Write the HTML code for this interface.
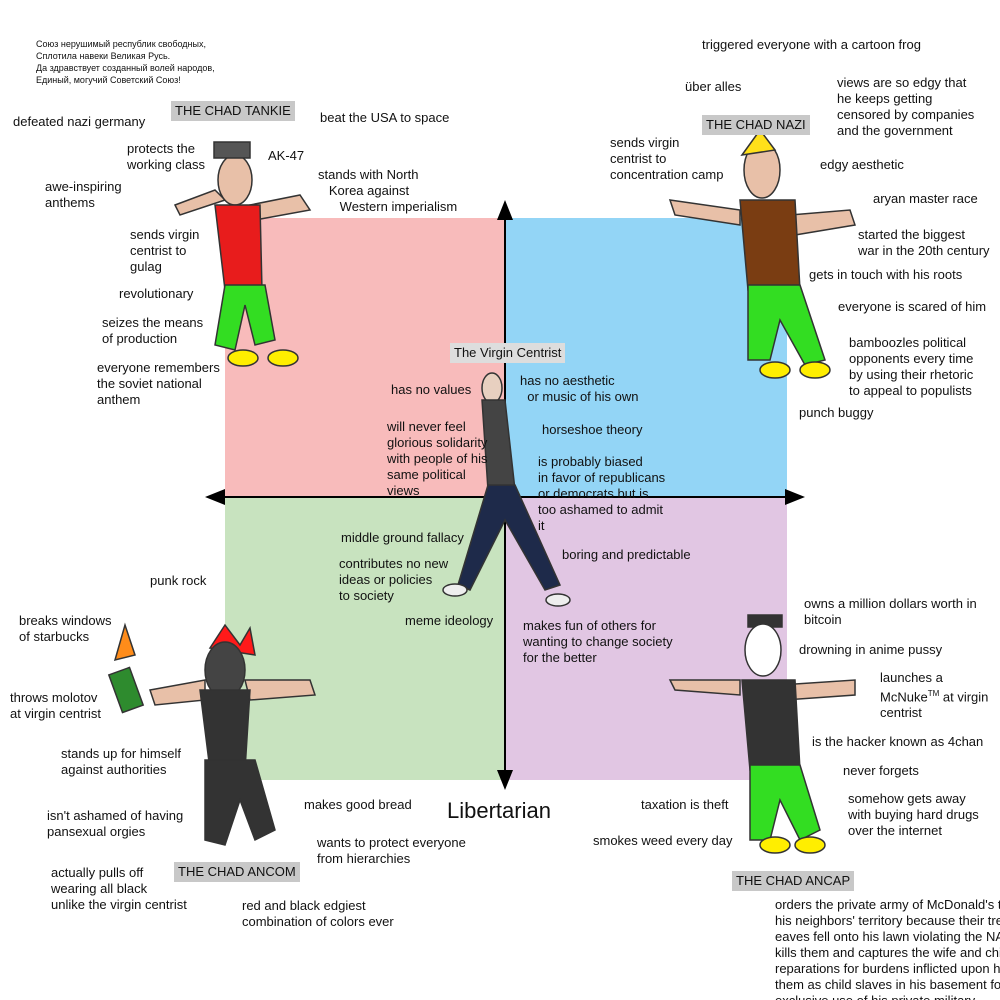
<!DOCTYPE html>
<html><head><meta charset="utf-8"><style>
body{margin:0;background:#fff;}
#c{position:relative;width:1000px;height:1000px;overflow:hidden;background:#fff;font-family:"Liberation Sans",Arial,sans-serif;font-size:13px;line-height:16px;color:#111;}
.t{position:absolute;white-space:nowrap;}
.lab{position:absolute;background:#c8c8c8;padding:2px 4px;font-size:13px;line-height:16px;}
svg{position:absolute;left:0;top:0;}
</style></head><body>
<div id="c">
<svg width="1000" height="1000">
<rect x="225" y="218" width="280" height="279" fill="#f8bbbb"/>
<rect x="505" y="218" width="282" height="279" fill="#93d5f6"/>
<rect x="225" y="497" width="280" height="283" fill="#c8e3bf"/>
<rect x="505" y="497" width="282" height="283" fill="#e1c6e3"/>
<g stroke="#000" stroke-width="2">
<line x1="505" y1="210" x2="505" y2="780"/><line x1="215" y1="497" x2="795" y2="497"/>
</g>
<g fill="#000">
<polygon points="505,200 497,220 513,220"/><polygon points="505,790 497,770 513,770"/>
<polygon points="205,497 225,489 225,505"/><polygon points="805,497 785,489 785,505"/>
</g>
<!-- tankie -->
<g stroke="#333" stroke-width="1.5">
<path d="M175 205 L215 190 L225 200 L180 215Z" fill="#e8c0a8"/>
<path d="M250 205 L300 195 L310 210 L255 220Z" fill="#e8c0a8"/>
<ellipse cx="235" cy="180" rx="17" ry="25" fill="#e8c0a8"/>
<rect x="214" y="142" width="36" height="16" fill="#555"/>
<path d="M215 205 L260 205 L262 290 L225 290Z" fill="#e81c1c"/>
<path d="M225 285 L265 285 L275 340 L255 345 L245 305 L235 350 L215 345Z" fill="#33dd22"/>
<ellipse cx="243" cy="358" rx="15" ry="8" fill="#ffee00"/><ellipse cx="283" cy="358" rx="15" ry="8" fill="#ffee00"/>
</g>
<!-- nazi -->
<g stroke="#333" stroke-width="1.5">
<path d="M670 200 L740 210 L740 225 L675 215Z" fill="#e8c0a8"/>
<path d="M790 215 L850 210 L855 225 L795 235Z" fill="#e8c0a8"/>
<ellipse cx="762" cy="170" rx="18" ry="28" fill="#e8c0a8"/>
<path d="M742 155 L760 130 L775 150Z" fill="#ffe01a"/>
<path d="M740 200 L795 200 L800 290 L748 290Z" fill="#7a3d12"/>
<path d="M748 285 L800 285 L825 360 L805 365 L780 320 L770 360 L748 360Z" fill="#33dd22"/>
<ellipse cx="775" cy="370" rx="15" ry="8" fill="#ffee00"/><ellipse cx="815" cy="370" rx="15" ry="8" fill="#ffee00"/>
</g>
<!-- centrist -->
<g stroke="#333" stroke-width="1.5">
<ellipse cx="492" cy="388" rx="10" ry="15" fill="#e8d0c0"/>
<path d="M482 400 L505 400 L515 490 L488 490Z" fill="#444"/>
<path d="M488 485 L515 485 L560 585 L545 590 L505 520 L470 590 L458 585Z" fill="#1e2a4a"/>
<ellipse cx="455" cy="590" rx="12" ry="6" fill="#eee"/><ellipse cx="558" cy="600" rx="12" ry="6" fill="#eee"/>
</g>
<!-- ancom -->
<g stroke="#333" stroke-width="1.5">
<path d="M210 648 L225 625 L240 645 L250 628 L255 655Z" fill="#ff1a1a"/>
<ellipse cx="225" cy="670" rx="20" ry="28" fill="#444"/>
<path d="M150 690 L205 680 L205 700 L155 705Z" fill="#e8c0a8"/>
<path d="M245 680 L310 680 L315 695 L250 700Z" fill="#e8c0a8"/>
<path d="M200 690 L250 690 L245 770 L210 770Z" fill="#333"/>
<path d="M205 760 L255 760 L275 830 L255 840 L240 800 L225 845 L205 840Z" fill="#333"/>
<rect x="115" y="670" width="22" height="40" fill="#2e8b2e" transform="rotate(-20 126 690)"/>
<path d="M115 660 L125 625 L135 655Z" fill="#ff8c1a"/>
</g>
<!-- ancap -->
<g stroke="#333" stroke-width="1.5">
<rect x="748" y="615" width="34" height="12" fill="#333"/>
<ellipse cx="763" cy="650" rx="18" ry="26" fill="#fff"/>
<path d="M670 680 L740 680 L740 695 L675 690Z" fill="#e8c0a8"/>
<path d="M780 685 L855 680 L855 695 L785 700Z" fill="#e8c0a8"/>
<path d="M742 680 L795 680 L800 770 L750 770Z" fill="#333"/>
<path d="M750 765 L800 765 L820 830 L800 840 L780 800 L770 840 L750 840Z" fill="#33dd22"/>
<ellipse cx="775" cy="845" rx="15" ry="8" fill="#ffee00"/><ellipse cx="810" cy="845" rx="15" ry="8" fill="#ffee00"/>
</g>
</svg>

<div class="t" style="left:36px;top:38px;font-size:9px;line-height:12px">Союз нерушимый республик свободных,<br>Сплотила навеки Великая Русь.<br>Да здравствует созданный волей народов,<br>Единый, могучий Советский Союз!</div>
<div class="lab" style="left:171px;top:101px">THE CHAD TANKIE</div>
<div class="lab" style="left:702px;top:115px">THE CHAD NAZI</div>
<div class="lab" style="left:450px;top:343px;background:#ddd">The Virgin Centrist</div>
<div class="lab" style="left:174px;top:862px">THE CHAD ANCOM</div>
<div class="lab" style="left:732px;top:871px">THE CHAD ANCAP</div>
<div class="t" style="left:447px;top:798px;font-size:22px;line-height:26px">Libertarian</div>

<div class="t" style="left:13px;top:114px">defeated nazi germany</div>
<div class="t" style="left:320px;top:110px">beat the USA to space</div>
<div class="t" style="left:127px;top:141px">protects the<br>working class</div>
<div class="t" style="left:268px;top:148px">AK-47</div>
<div class="t" style="left:318px;top:167px">stands with North<br>&nbsp;&nbsp;&nbsp;Korea against<br>&nbsp;&nbsp;&nbsp;&nbsp;&nbsp;&nbsp;Western imperialism</div>
<div class="t" style="left:45px;top:179px">awe-inspiring<br>anthems</div>
<div class="t" style="left:130px;top:227px">sends virgin<br>centrist to<br>gulag</div>
<div class="t" style="left:119px;top:286px">revolutionary</div>
<div class="t" style="left:102px;top:315px">seizes the means<br>of production</div>
<div class="t" style="left:97px;top:360px">everyone remembers<br>the soviet national<br>anthem</div>

<div class="t" style="left:702px;top:37px">triggered everyone with a cartoon frog</div>
<div class="t" style="left:685px;top:79px">über alles</div>
<div class="t" style="left:837px;top:75px">views are so edgy that<br>he keeps getting<br>censored by companies<br>and the government</div>
<div class="t" style="left:610px;top:135px">sends virgin<br>centrist to<br>concentration camp</div>
<div class="t" style="left:820px;top:157px">edgy aesthetic</div>
<div class="t" style="left:873px;top:191px">aryan master race</div>
<div class="t" style="left:858px;top:227px">started the biggest<br>war in the 20th century</div>
<div class="t" style="left:809px;top:267px">gets in touch with his roots</div>
<div class="t" style="left:838px;top:299px">everyone is scared of him</div>
<div class="t" style="left:849px;top:335px">bamboozles political<br>opponents every time<br>by using their rhetoric<br>to appeal to populists</div>
<div class="t" style="left:799px;top:405px">punch buggy</div>

<div class="t" style="left:391px;top:382px">has no values</div>
<div class="t" style="left:520px;top:373px">has no aesthetic<br>&nbsp;&nbsp;or music of his own</div>
<div class="t" style="left:387px;top:419px">will never feel<br>glorious solidarity<br>with people of his<br>same political<br>views</div>
<div class="t" style="left:542px;top:422px">horseshoe theory</div>
<div class="t" style="left:538px;top:454px">is probably biased<br>in favor of republicans<br>or democrats but is<br>too ashamed to admit<br>it</div>
<div class="t" style="left:341px;top:530px">middle ground fallacy</div>
<div class="t" style="left:562px;top:547px">boring and predictable</div>
<div class="t" style="left:339px;top:556px">contributes no new<br>ideas or policies<br>to society</div>
<div class="t" style="left:405px;top:613px">meme ideology</div>
<div class="t" style="left:523px;top:618px">makes fun of others for<br>wanting to change society<br>for the better</div>

<div class="t" style="left:150px;top:573px">punk rock</div>
<div class="t" style="left:19px;top:613px">breaks windows<br>of starbucks</div>
<div class="t" style="left:10px;top:690px">throws molotov<br>at virgin centrist</div>
<div class="t" style="left:61px;top:746px">stands up for himself<br>against authorities</div>
<div class="t" style="left:47px;top:808px">isn't ashamed of having<br>pansexual orgies</div>
<div class="t" style="left:304px;top:797px">makes good bread</div>
<div class="t" style="left:317px;top:835px">wants to protect everyone<br>from hierarchies</div>
<div class="t" style="left:51px;top:865px">actually pulls off<br>wearing all black<br>unlike the virgin centrist</div>
<div class="t" style="left:242px;top:898px">red and black edgiest<br>combination of colors ever</div>

<div class="t" style="left:804px;top:596px">owns a million dollars worth in<br>bitcoin</div>
<div class="t" style="left:799px;top:642px">drowning in anime pussy</div>
<div class="t" style="left:880px;top:670px">launches a<br>McNuke<sup style="font-size:8px">TM</sup> at virgin<br>centrist</div>
<div class="t" style="left:812px;top:734px">is the hacker known as 4chan</div>
<div class="t" style="left:843px;top:763px">never forgets</div>
<div class="t" style="left:848px;top:791px">somehow gets away<br>with buying hard drugs<br>over the internet</div>
<div class="t" style="left:641px;top:797px">taxation is theft</div>
<div class="t" style="left:593px;top:833px">smokes weed every day</div>
<div class="t" style="left:775px;top:897px">orders the private army of McDonald's to invade<br>his neighbors' territory because their tree's<br>eaves fell onto his lawn violating the NAP,<br>kills them and captures the wife and children as<br>reparations for burdens inflicted upon him, uses<br>them as child slaves in his basement for the<br>exclusive use of his private military</div>
</div>
</body></html>
